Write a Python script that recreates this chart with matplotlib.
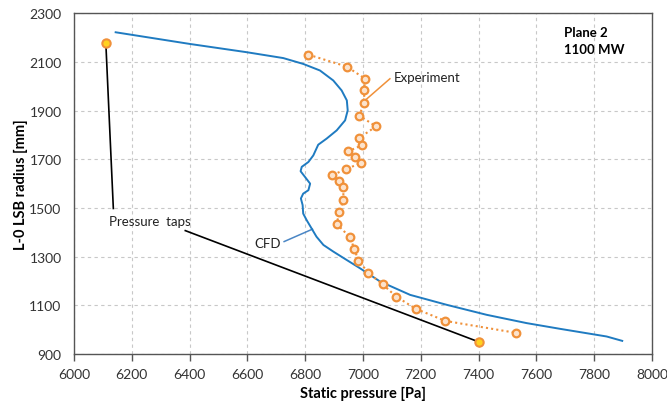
import matplotlib
matplotlib.use("Agg")
import matplotlib.pyplot as plt

plt.rcParams['font.family'] = ['Lato', 'DejaVu Sans']

# CFD profile (static pressure [Pa], radius [mm])
cfd_p = [6144, 6401, 6598, 6724, 6793, 6851, 6897, 6926, 6944, 6947, 6938, 6909,
         6874, 6845, 6828, 6811, 6788, 6784, 6799, 6817, 6811, 6793, 6785, 6791,
         6793, 6805, 6822, 6839, 6863, 6897, 6944, 6990, 7059, 7163, 7290, 7428,
         7566, 7684, 7843, 7897]
cfd_r = [2222, 2174, 2140, 2116, 2092, 2065, 2024, 1983, 1942, 1901, 1860, 1819,
         1785, 1760, 1716, 1689, 1669, 1651, 1628, 1600, 1573, 1559, 1539, 1512,
         1477, 1450, 1416, 1382, 1348, 1321, 1286, 1252, 1198, 1143, 1102, 1061,
         1027, 1003, 972, 954]

# Experiment
exp_p = [6811, 6944, 7007, 7004, 7004, 6987, 7045, 6987, 6995, 6949, 6972, 6993,
         6940, 6892, 6918, 6932, 6932, 6918, 6909, 6955, 6970, 6984, 7018, 7068,
         7115, 7182, 7285, 7529]
exp_r = [2130, 2081, 2031, 1986, 1932, 1880, 1835, 1788, 1757, 1733, 1710, 1685,
         1659, 1634, 1610, 1587, 1532, 1484, 1434, 1380, 1331, 1284, 1234, 1186,
         1136, 1086, 1036, 987]

# Pressure taps
tap_p = [6110, 7400]
tap_r = [2178, 950]

xticks = list(range(6000, 8001, 200))
yticks = list(range(900, 2301, 200))

blue = '#1F7BC1'
orange = '#F0913A'

fig = plt.figure(figsize=(6.67, 4.06), dpi=100, facecolor='white')
ax = fig.add_axes([0.111, 0.1256, 0.8665, 0.8392])

ax.plot(cfd_p, cfd_r, color=blue, linewidth=1.4, zorder=3)
ax.plot(exp_p, exp_r, color=orange, linewidth=1.5, linestyle=(0, (1, 1.5)),
        marker='o', markersize=5.5, markerfacecolor='#FCE3CC',
        markeredgecolor=orange, markeredgewidth=1.6, zorder=4)
ax.plot(tap_p, tap_r, linestyle='none', marker='o', markersize=6,
        markerfacecolor='#FFD21F', markeredgecolor=orange, markeredgewidth=1.5, zorder=5)

# annotation leader lines
ax.plot([6110, 6136], [2178, 1498], color='black', linewidth=1.2, zorder=2)
ax.plot([6385, 7400], [1407, 950], color='black', linewidth=1.2, zorder=2)
ax.text(6122, 1446, 'Pressure  taps', fontsize=9.5, ha='left', va='center', color='#222222')

ax.plot([6727, 6825], [1362, 1413], color='#4A86C5', linewidth=1.1, zorder=2)
ax.text(6716, 1356, 'CFD', fontsize=9.5, ha='right', va='center', color='#222222')

ax.plot([7007, 7093], [1942, 2031], color=orange, linewidth=1.1, zorder=2)
ax.text(7105, 2040, 'Experiment', fontsize=9.5, ha='left', va='center', color='#222222')

ax.text(0.848, 0.946, 'Plane 2', transform=ax.transAxes, fontsize=9.5,
        fontweight='bold', ha='left', va='center')
ax.text(0.848, 0.895, '1100 MW', transform=ax.transAxes, fontsize=9.5,
        fontweight='bold', ha='left', va='center')

ax.set_xlim(6000, 8000)
ax.set_ylim(900, 2300)
ax.set_xticks(xticks)
ax.set_yticks(yticks)
ax.tick_params(labelsize=10, colors='#333333')
ax.tick_params(axis='x', length=5, width=1, color='#555555', direction='out', pad=5)
ax.tick_params(axis='y', length=0, pad=9)
ax.grid(True, color='#C8C8C8', linestyle=(0, (3, 3)), linewidth=0.8, zorder=0)
ax.set_axisbelow(True)
for s in ax.spines.values():
    s.set_color('#555555')
    s.set_linewidth(1.0)

ax.set_xlabel('Static pressure [Pa]', fontsize=10.5, fontweight='bold', labelpad=4)
ax.set_ylabel('L-0 LSB radius [mm]', fontsize=10.5, fontweight='bold', labelpad=1)

fig.savefig('out.png', dpi=100, facecolor='white')
